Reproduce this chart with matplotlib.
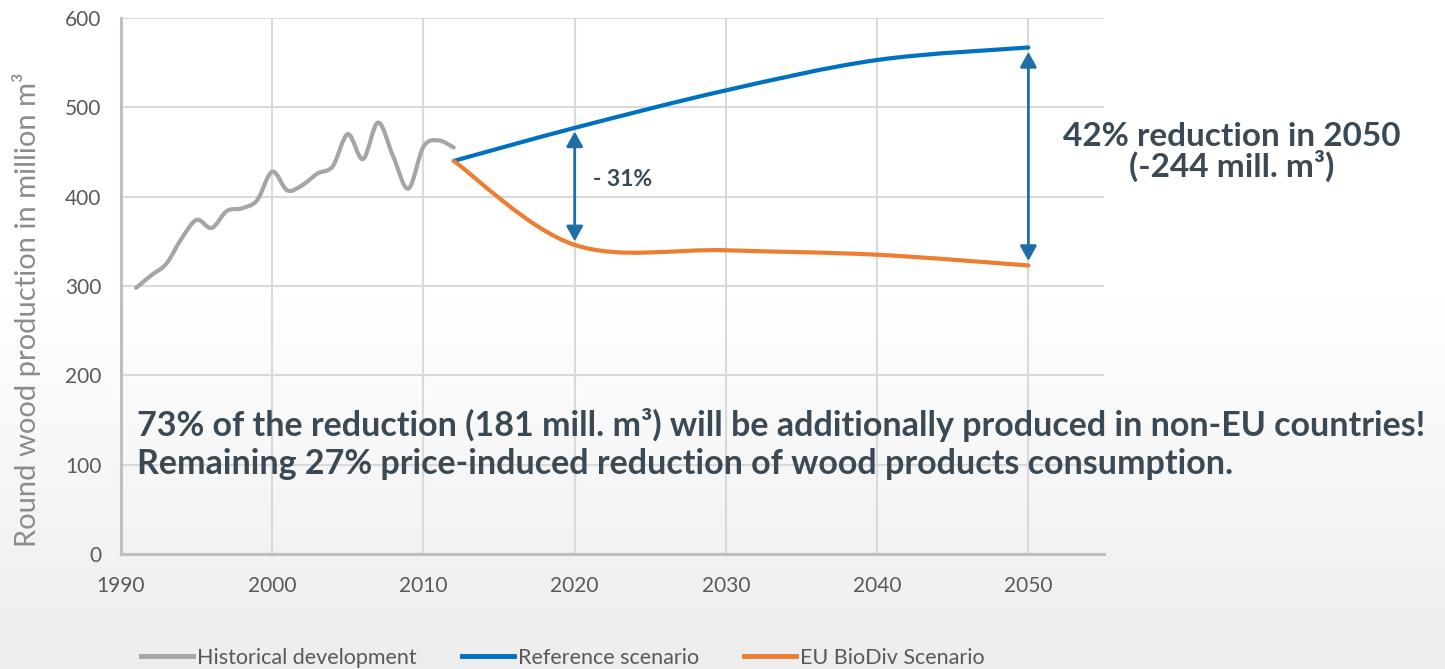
import numpy as np
import matplotlib
matplotlib.use("Agg")
import matplotlib.pyplot as plt
from matplotlib.path import Path
from matplotlib.patches import PathPatch, FancyArrowPatch
from matplotlib.lines import Line2D

# ---------------- data ----------------
hist_years = list(range(1991, 2013))
hist_values = [298, 312, 325, 353, 374, 365, 384, 387, 396, 428, 407,
               413, 426, 434, 470, 442, 483, 445, 409, 456, 463, 455]

scen_years = [2012, 2020, 2030, 2040, 2050]
ref_values = [440, 477, 519, 553, 567]
bio_values = [440, 346, 340, 335, 323]

x_ticks = [1990, 2000, 2010, 2020, 2030, 2040, 2050]
y_ticks = [0, 100, 200, 300, 400, 500, 600]

series_labels = ["Historical development", "Reference scenario", "EU BioDiv Scenario"]
series_colors = ["#a5a5a5", "#0070c0", "#ed7d31"]

ylabel = "Round wood production in million m³"
note_31 = "- 31%"
note_42 = "42% reduction in 2050\n(-244 mill. m³)"
note_bottom = ("73% of the reduction (181 mill. m³) will be additionally produced in non-EU countries!\n"
               "Remaining 27% price-induced reduction of wood products consumption.")

# ---------------- figure ----------------
W, H = 1445, 669
fig = plt.figure(figsize=(W / 100, H / 100), dpi=100)
fig.patch.set_facecolor("white")

# background gradient
bg = fig.add_axes([0, 0, 1, 1], zorder=-10)
rows = np.arange(H)
start = 300
t = np.clip((rows - start) / (H - start), 0, 1)
vals = 1.0 - t * (1.0 - 0.93)
img = np.repeat(vals[:, None, None], 3, axis=2) * np.ones((H, 2, 3))
bg.imshow(img, aspect="auto", extent=[0, 1, 0, 1], origin="upper")
bg.set_axis_off()

ax = fig.add_axes([121 / W, 1 - 554 / H, (1104 - 121) / W, (554 - 18) / H])
ax.patch.set_alpha(0)
ax.set_xlim(1990, 2055)
ax.set_ylim(0, 600)


def smooth_path(xs, ys):
    pts = np.column_stack([xs, ys]).astype(float)
    n = len(pts)
    verts = [pts[0]]
    codes = [Path.MOVETO]
    for i in range(n - 1):
        p0 = pts[i - 1] if i > 0 else pts[i]
        p1 = pts[i]
        p2 = pts[i + 1]
        p3 = pts[i + 2] if i + 2 < n else pts[i + 1]
        c1 = p1 + (p2 - p0) / 6.0
        c2 = p2 - (p3 - p1) / 6.0
        verts += [c1, c2, p2]
        codes += [Path.CURVE4] * 3
    return Path(verts, codes)


for xs, ys, c in [(hist_years, hist_values, series_colors[0]),
                  (scen_years, ref_values, series_colors[1]),
                  (scen_years, bio_values, series_colors[2])]:
    patch = PathPatch(smooth_path(xs, ys), facecolor="none", edgecolor=c,
                      lw=3.0, capstyle="round", joinstyle="round",
                      transform=ax.transData, zorder=3)
    ax.add_patch(patch)

# grid / spines
ax.set_xticks(x_ticks)
ax.set_yticks(y_ticks)
ax.grid(True, color="#d9d9d9", lw=1.5)
ax.set_axisbelow(True)
for s in ["top", "right"]:
    ax.spines[s].set_visible(False)
for s in ["left", "bottom"]:
    ax.spines[s].set_color("#bfbfbf")
    ax.spines[s].set_linewidth(2.2)
ax.tick_params(axis="both", length=0)
ax.tick_params(axis="y", pad=14, labelsize=15, labelcolor="#595959")
ax.tick_params(axis="x", pad=16, labelsize=15, labelcolor="#595959")
for lbl in ax.get_xticklabels() + ax.get_yticklabels():
    lbl.set_fontfamily("Lato")

fig.text(27 / W, 1 - 310 / H, ylabel, rotation=90, fontsize=21,
         color="#8c8c8c", family="Lato", ha="center", va="center")

# arrows
arrow_col = "#1f6ea6"
i2020 = scen_years.index(2020)
i2050 = scen_years.index(2050)
for idx, dy in [(i2020, 4), (i2050, 5)]:
    xx = scen_years[idx]
    a = FancyArrowPatch((xx, bio_values[idx] + dy), (xx, ref_values[idx] - dy),
                        arrowstyle="<|-|>,head_length=9,head_width=5",
                        color=arrow_col, lw=2, mutation_scale=1,
                        shrinkA=0, shrinkB=0, zorder=4)
    ax.add_patch(a)

txt_col = "#3a4953"
ax.text(2021.2, (ref_values[i2020] + bio_values[i2020]) / 2 + 8, note_31,
        fontsize=16.5, fontweight="bold", color=txt_col, family="Lato",
        ha="left", va="center")

fig.text(1232 / W, 1 - 152 / H, note_42, fontsize=24, fontweight="bold",
         color=txt_col, family="Lato", ha="center", va="center",
         linespacing=0.95)

fig.text(137 / W, 1 - 444 / H, note_bottom, fontsize=24.5, fontweight="bold",
         color=txt_col, family="Lato", ha="left", va="center",
         linespacing=1.22)

# legend
handles = [Line2D([0], [0], color=c, lw=3.5) for c in series_colors]
leg = fig.legend(handles, series_labels, loc="center", ncol=3,
                 bbox_to_anchor=(563 / W, 1 - 658 / H), frameon=False,
                 prop={"family": "Lato", "size": 15.5}, handlelength=2.4,
                 handletextpad=0.2, columnspacing=2.1, borderpad=0)
for t_ in leg.get_texts():
    t_.set_color("#595959")

fig.savefig("out.png", dpi=100)
